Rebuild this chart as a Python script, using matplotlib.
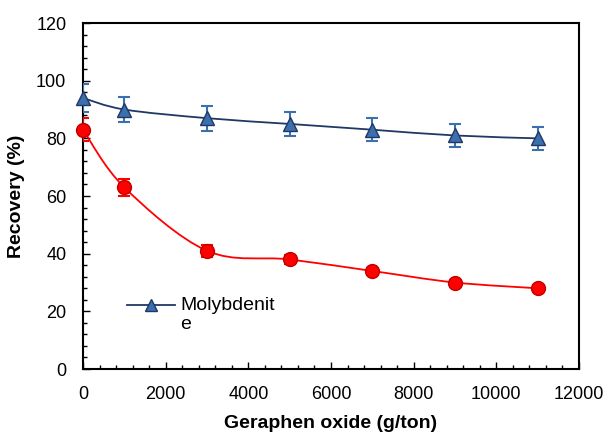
import numpy as np
import matplotlib.pyplot as plt
from matplotlib.path import Path
from matplotlib.patches import PathPatch
from matplotlib.ticker import MultipleLocator

plt.rcParams['font.family'] = ['Liberation Sans', 'DejaVu Sans']

dose = [0, 1000, 3000, 5000, 7000, 9000, 11000]
moly = [94, 90, 87, 85, 83, 81, 80]
moly_err = [4.7, 4.4, 4.3, 4.2, 4.0, 4.0, 4.0]
other = [83, 63, 41, 38, 34, 30, 28]
other_err = [4.0, 3.0, 2.0, 1.5, 1.2, 1.0, 1.0]


def smooth_path(x, y):
    # Excel-style smoothed line: cubic Bezier through each point
    x = np.asarray(x, float)
    y = np.asarray(y, float)
    pts = np.column_stack([x, y])
    n = len(pts)
    verts = [pts[0]]
    codes = [Path.MOVETO]
    for i in range(n - 1):
        p0 = pts[i - 1] if i > 0 else pts[i]
        p1 = pts[i]
        p2 = pts[i + 1]
        p3 = pts[i + 2] if i + 2 < n else pts[i + 1]
        c1 = p1 + (p2 - p0) / 6.0
        c2 = p2 - (p3 - p1) / 6.0
        verts += [c1, c2, p2]
        codes += [Path.CURVE4] * 3
    return Path(verts, codes)


fig = plt.figure(figsize=(6.08, 4.32), dpi=100)
ax = fig.add_axes([0.1365, 0.1458, 0.8158, 0.8009])

blue_line = '#1f3864'
blue_fill = '#3c6fae'
red = '#ff0000'

ax.add_patch(PathPatch(smooth_path(dose, moly), fill=False, edgecolor=blue_line, lw=1.3, zorder=2))
ax.add_patch(PathPatch(smooth_path(dose, other), fill=False, edgecolor=red, lw=1.3, zorder=2))

ax.errorbar(dose, moly, yerr=moly_err, fmt='none', ecolor=blue_fill, elinewidth=1.5,
            capsize=4, capthick=1.5, zorder=3)
ax.errorbar(dose, other, yerr=other_err, fmt='none', ecolor=red, elinewidth=1.5,
            capsize=4, capthick=1.5, zorder=3)

ax.plot(dose, moly, linestyle='none', marker='^', markersize=10.5, markerfacecolor=blue_fill,
        markeredgecolor=blue_line, markeredgewidth=1, zorder=4, clip_on=False)
ax.plot(dose, other, linestyle='none', marker='o', markersize=10, markerfacecolor=red,
        markeredgecolor='#c00000', markeredgewidth=1, zorder=4, clip_on=False)

# legend key for molybdenite (label wraps onto a second line)
ax.plot([0.0887, 0.1855], [0.185, 0.185], color=blue_line, lw=1.3, transform=ax.transAxes,
        clip_on=False)
ax.plot([0.137], [0.185], marker='^', markersize=8, markerfacecolor=blue_fill,
        markeredgecolor=blue_line, transform=ax.transAxes, clip_on=False)
ax.text(0.1956, 0.209, 'Molybdenit\ne', transform=ax.transAxes, fontsize=14,
        ha='left', va='top', linespacing=1.15)

ax.set_xlim(0, 12000)
ax.set_ylim(0, 120)
ax.xaxis.set_major_locator(MultipleLocator(2000))
ax.xaxis.set_minor_locator(MultipleLocator(400))
ax.yaxis.set_major_locator(MultipleLocator(20))
ax.yaxis.set_minor_locator(MultipleLocator(4))
ax.tick_params(which='both', direction='in', top=False, right=False, labelsize=13)
ax.tick_params(which='major', length=5, width=1)
ax.tick_params(which='minor', length=3, width=1)
ax.tick_params(axis='x', pad=12)
ax.tick_params(axis='y', pad=12)
for s in ax.spines.values():
    s.set_linewidth(1.5)

ax.set_xlabel('Geraphen oxide (g/ton)', fontsize=14, fontweight='bold', labelpad=9)
ax.set_ylabel('Recovery (%)', fontsize=14, fontweight='bold', labelpad=8)

fig.savefig('out.png', dpi=100)
